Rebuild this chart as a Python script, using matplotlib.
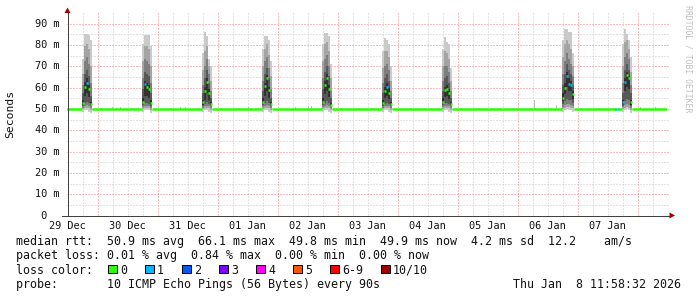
import numpy as np
import matplotlib
matplotlib.use("Agg")
import matplotlib.pyplot as plt
import matplotlib.transforms as mtransforms
from matplotlib.patches import Rectangle, Polygon
from matplotlib.lines import Line2D

# ---------------- data ----------------
day_labels = ["29 Dec", "30 Dec", "31 Dec", "01 Jan", "02 Jan", "03 Jan",
              "04 Jan", "05 Jan", "06 Jan", "07 Jan"]
ytick_values = [0, 10, 20, 30, 40, 50, 60, 70, 80, 90]   # milliseconds
baseline_rtt = 49.9           # ms, median outside the evening peaks
sample_step = 48 / 1440.0     # days per consolidated sample

# evening peaks: start time in days since 29 Dec 00:00
spike_start = [0.75, 1.75, 2.75, 3.75, 4.75, 5.75, 6.75, 8.75, 9.75]
spike_median = [
    [52.5, 60.0, 62.0, 59.0, 52.0],
    [53.0, 61.5, 60.0, 59.0, 52.5],
    [53.0, 58.0, 62.5, 57.0, 52.0],
    [53.0, 60.5, 64.0, 58.5, 52.0],
    [53.0, 61.0, 64.0, 59.0, 51.5],
    [52.5, 58.0, 60.0, 57.0, 52.0],
    [53.0, 58.5, 59.0, 57.0, 52.0],
    [55.0, 59.5, 65.0, 61.5, 61.0, 56.5],
    [52.8, 62.4, 65.5, 64.0, 53.0],
]
spike_loss = [
    [0, 0, 1, 0, 0],
    [0, 1, 0, 0, 0],
    [0, 0, 0, 0, 0],
    [0, 0, 0, 0, 0],
    [0, 0, 0, 0, 0],
    [0, 0, 1, 0, 0],
    [0, 0, 0, 0, 0],
    [0, 0, 1, 1, 1, 0],
    [1, 1, 0, 0, 0],
]
# 10 sorted ping times (ms) per sample
spike_pings = [
    [[48.5, 49.5, 50.0, 51.0, 51.5, 54.0, 57.0, 61.0, 66.0, 73.0],
     [49.0, 50.0, 51.0, 52.5, 56.0, 62.5, 66.0, 72.0, 79.0, 85.0],
     [49.0, 50.0, 51.5, 53.0, 57.0, 64.0, 68.0, 74.0, 80.0, 85.0],
     [48.5, 50.0, 51.0, 52.5, 55.5, 61.0, 65.0, 71.0, 78.0, 84.5],
     [48.0, 49.0, 50.0, 51.0, 51.5, 53.0, 56.0, 62.0, 70.0, 82.0]],
    [[48.5, 49.5, 50.5, 51.5, 52.5, 55.0, 59.0, 64.0, 72.0, 80.0],
     [49.0, 50.0, 51.0, 52.5, 56.0, 63.0, 67.0, 73.0, 79.0, 84.5],
     [49.0, 50.0, 51.0, 52.5, 56.0, 62.0, 66.0, 72.0, 79.0, 84.5],
     [49.0, 50.0, 51.0, 52.0, 55.0, 61.0, 65.0, 71.0, 78.0, 84.5],
     [48.0, 49.0, 50.0, 51.0, 51.5, 54.0, 57.0, 62.0, 70.0, 79.0]],
    [[48.5, 49.5, 50.0, 51.0, 51.5, 54.0, 57.0, 61.0, 68.0, 76.0],
     [49.0, 50.0, 51.0, 52.0, 54.0, 60.0, 64.0, 70.0, 77.0, 86.0],
     [49.0, 50.0, 51.0, 53.0, 57.0, 64.0, 68.0, 73.0, 79.0, 84.0],
     [48.5, 50.0, 51.0, 52.0, 54.0, 59.0, 62.0, 66.0, 70.0, 73.0],
     [48.0, 49.0, 50.0, 51.0, 51.5, 53.0, 55.0, 58.0, 63.0, 70.0]],
    [[48.5, 49.5, 50.5, 51.5, 52.5, 55.0, 58.0, 63.0, 70.0, 78.0],
     [49.0, 50.0, 51.0, 52.5, 56.0, 62.0, 66.0, 72.0, 78.0, 84.0],
     [49.0, 50.0, 51.5, 53.5, 58.0, 65.5, 69.0, 74.0, 80.0, 84.0],
     [48.5, 50.0, 51.0, 52.5, 55.0, 60.0, 64.0, 69.0, 75.0, 82.0],
     [48.0, 49.0, 50.0, 51.0, 51.5, 53.0, 55.0, 59.0, 65.0, 72.0]],
    [[48.5, 49.5, 50.5, 51.5, 52.5, 55.0, 59.0, 64.0, 72.0, 80.0],
     [49.0, 50.0, 51.0, 52.5, 56.5, 63.0, 67.0, 73.0, 80.0, 85.5],
     [49.0, 50.0, 51.5, 53.5, 58.0, 66.0, 70.0, 75.0, 81.0, 85.5],
     [48.5, 50.0, 51.0, 52.5, 55.5, 61.0, 65.0, 70.0, 77.0, 84.0],
     [48.0, 49.0, 50.0, 51.0, 51.5, 52.5, 55.0, 58.0, 64.0, 71.0]],
    [[48.5, 49.5, 50.0, 51.0, 51.5, 54.0, 57.0, 62.0, 69.0, 77.0],
     [49.0, 50.0, 51.0, 52.0, 55.0, 60.0, 64.0, 70.0, 77.0, 83.0],
     [49.0, 50.0, 51.0, 52.5, 56.0, 62.0, 66.0, 71.0, 77.0, 82.0],
     [48.5, 50.0, 51.0, 52.0, 54.5, 59.5, 63.0, 68.0, 74.0, 80.0],
     [48.0, 49.0, 50.0, 51.0, 51.5, 53.0, 55.0, 58.0, 63.0, 70.0]],
    [[48.5, 49.5, 50.5, 51.5, 52.5, 55.0, 58.0, 63.0, 70.0, 78.0],
     [49.0, 50.0, 51.0, 52.5, 55.5, 60.0, 64.0, 70.0, 77.0, 83.5],
     [49.0, 50.0, 51.0, 52.5, 56.0, 61.0, 65.0, 70.0, 76.0, 81.0],
     [48.5, 50.0, 51.0, 52.0, 54.5, 59.0, 62.0, 67.0, 73.0, 80.0],
     [48.0, 49.0, 50.0, 51.0, 51.5, 53.0, 55.0, 58.0, 63.0, 69.0]],
    [[48.5, 49.5, 50.5, 52.0, 53.5, 57.0, 61.0, 66.0, 74.0, 82.0],
     [49.0, 50.0, 51.5, 53.5, 56.5, 62.0, 66.0, 72.0, 80.0, 87.0],
     [49.5, 50.5, 52.0, 54.5, 60.0, 67.0, 71.0, 76.0, 82.0, 87.0],
     [49.5, 50.5, 52.0, 54.0, 58.0, 64.0, 68.0, 73.0, 80.0, 86.0],
     [49.0, 50.0, 51.5, 54.0, 58.0, 63.0, 66.0, 71.0, 78.0, 86.0],
     [48.5, 50.0, 51.0, 52.5, 54.5, 58.0, 61.0, 65.0, 70.0, 76.0]],
    [[48.5, 49.5, 50.5, 51.0, 52.0, 54.0, 57.0, 62.0, 70.0, 80.0],
     [49.0, 50.0, 51.5, 53.5, 58.0, 64.0, 68.0, 74.0, 81.0, 87.0],
     [49.5, 50.5, 52.0, 54.5, 60.0, 67.0, 71.0, 76.0, 82.0, 85.0],
     [49.0, 50.0, 51.5, 54.0, 59.0, 65.0, 68.0, 73.0, 78.0, 82.0],
     [48.0, 49.0, 50.0, 51.0, 51.5, 54.0, 57.0, 61.0, 67.0, 74.0]],
]
# small isolated smoke bits on the baseline (time in days, top ms)
blip_time = [1.25, 1.38, 2.38, 2.47, 3.52, 4.30, 4.52, 4.57, 8.28, 8.65, 10.05, 10.30]
blip_top = [50.8, 50.8, 50.6, 50.6, 50.8, 50.6, 50.9, 50.9, 53.8, 51.4, 50.8, 50.8]
# single lost pings on the baseline
loss_blip_time = [9.63, 9.68]
loss_blip_count = [1, 1]

loss_labels = ["0", "1", "2", "3", "4", "5", "6-9", "10/10"]
loss_colors = ["#26ff00", "#00b8ff", "#0059ff", "#7e00ff", "#ff00ff",
               "#ff5500", "#ff0000", "#a10000"]

stats_line = "median rtt:  50.9 ms avg  66.1 ms max  49.8 ms min  49.9 ms now  4.2 ms sd  12.2    am/s"
loss_line = "packet loss: 0.01 % avg  0.84 % max  0.00 % min  0.00 % now"
probe_line = "probe:       10 ICMP Echo Pings (56 Bytes) every 90s"
date_text = "Thu Jan  8 11:58:32 2026"


def loss_index(n):
    if n <= 5:
        return n
    if n < 10:
        return 6
    return 7


# ---------------- figure ----------------
W, H = 697, 297
fig = plt.figure(figsize=(W / 100, H / 100), dpi=100)
fig.patch.set_facecolor("white")
pix = mtransforms.Affine2D().scale(1, -1).translate(0, H)   # pixel coords, y down
ident = mtransforms.IdentityTransform()

ax = fig.add_axes([67 / W, (H - 215) / H, 600 / W, (215 - 13) / H])
ax.set_xlim(0.5, 10.5)
ax.set_ylim(0, 94.7)
ax.set_facecolor("white")
for s in ax.spines.values():
    s.set_visible(False)
ax.set_xticks([])
ax.set_yticks([])

# grid (pixel aligned dotted lines)
minor_col = "#c8c8c8"
major_col = "#f08080"
dash = (0, (1, 2))
x_left, y_bot = ax.transData.transform((0.5, 0))
x_right, y_top = ax.transData.transform((10.5, 94.7))


def vgrid(t, col):
    xd = np.floor(ax.transData.transform((t, 0))[0]) + 0.5
    fig.add_artist(Line2D([xd, xd], [y_bot, y_top], transform=ident, color=col,
                          lw=0.72, ls=dash, zorder=1))


def hgrid(v, col):
    yd = np.floor(ax.transData.transform((0.5, v))[1]) + 0.5
    fig.add_artist(Line2D([x_left, x_right + 1], [yd, yd], transform=ident, color=col,
                          lw=0.72, ls=dash, zorder=1))


for k in range(1, 41):
    t = 0.5 + k * 0.25
    if t >= 10.5:
        break
    if abs(t - round(t)) < 1e-9:
        continue
    vgrid(t, minor_col)
for v in range(5, 95, 10):
    hgrid(v, minor_col)
for d in range(1, 11):
    vgrid(d, major_col)
for v in ytick_values[1:]:
    hgrid(v, major_col)
ax.set_zorder(2)
ax.patch.set_alpha(0)

# smoke
shades = ["#cacaca", "#a4a4a4", "#7e7e7e", "#585858", "#323232"]
for t0, pings in zip(spike_start, spike_pings):
    P = np.array(pings)
    n = len(P)
    t = t0 + np.arange(n + 1) * sample_step
    P = np.vstack([P, P[-1]])
    for k in range(5):
        ax.fill_between(t, P[:, k], P[:, 9 - k], step="post", color=shades[k],
                        lw=0, antialiased=False, zorder=2)
for tb, top in zip(blip_time, blip_top):
    ax.fill_between([tb, tb + sample_step / 2], baseline_rtt - 0.4, top,
                    color="#c0c0c0", lw=0, antialiased=False, zorder=2)

# median: baseline segments between peaks, then per-sample segments coloured by loss
mlw = 1.8
prev = 0.5
for t0, med, los in zip(spike_start, spike_median, spike_loss):
    ax.hlines(baseline_rtt, prev, t0, color=loss_colors[0], lw=mlw, zorder=3)
    t = t0 + np.arange(len(med)) * sample_step
    cols = [loss_colors[loss_index(l)] for l in los]
    ax.hlines(med, t, t + sample_step, colors=cols, lw=mlw, zorder=3)
    prev = t0 + len(med) * sample_step
ax.hlines(baseline_rtt, prev, 10.5, color=loss_colors[0], lw=mlw, zorder=3)
for tb, nl in zip(loss_blip_time, loss_blip_count):
    ax.hlines(baseline_rtt, tb, tb + sample_step / 2,
              color=loss_colors[loss_index(nl)], lw=mlw, zorder=3.5)

# axes lines and arrows
axis_col = "#404040"
arrow_col = "#a00000"
fig.add_artist(Line2D([67.5, 67.5], [215.5, 12], transform=pix, color=axis_col,
                      lw=0.72, antialiased=False, zorder=4))
fig.add_artist(Line2D([62, 670], [215.5, 215.5], transform=pix, color=axis_col,
                      lw=0.72, antialiased=False, zorder=4))
fig.add_artist(Polygon([(64.5, 13), (70.5, 13), (67.5, 7.5)], closed=True,
                       transform=pix, color=arrow_col, lw=0, zorder=4))
fig.add_artist(Polygon([(669.5, 212.5), (669.5, 218.5), (675, 215.5)], closed=True,
                       transform=pix, color=arrow_col, lw=0, zorder=4))

mono = "DejaVu Sans Mono"
tick_fs = 7.4
tick_cw = 0.602 * tick_fs * 100 / 72

# y tick labels
ylab_trans = mtransforms.offset_copy(
    mtransforms.blended_transform_factory(pix, ax.transData),
    fig=fig, x=0, y=-3.7, units="dots")
for v in ytick_values:
    s = f"{v:2d} m" if v else " 0  "
    fig.text(60 - 4 * tick_cw, v, s, transform=ylab_trans, family=mono,
             fontsize=tick_fs, ha="left", va="baseline", color="#111111")

# x tick labels
xlab_trans = mtransforms.blended_transform_factory(ax.transData, pix)
for i, lbl in enumerate(day_labels):
    fig.text(0.5 + i, 229, lbl, transform=xlab_trans, family=mono,
             fontsize=tick_fs, ha="center", va="baseline", color="#111111")

# axis title
fig.text(10.5, 114, "Seconds", transform=pix, family=mono, fontsize=8.2,
         rotation=90, ha="center", va="center", color="#111111")
# watermark
fig.text(688, 5, "RRDTOOL / TOBI OETIKER", transform=pix, family=mono,
         fontsize=5.9, rotation=270, ha="center", va="top", color="#c0c0c0")

# legend
leg_fs = 8.37
cw = 7.0
fig.text(16, 245, stats_line, transform=pix, family=mono, fontsize=leg_fs,
         va="baseline", color="#111111")
fig.text(16, 259.5, loss_line, transform=pix, family=mono, fontsize=leg_fs,
         va="baseline", color="#111111")
fig.text(16, 273.5, "loss color:", transform=pix, family=mono, fontsize=leg_fs,
         va="baseline", color="#111111")
x = 108.0
for lbl, col in zip(loss_labels, loss_colors):
    fig.add_artist(Rectangle((x, 264.5), 8.5, 8.5, transform=pix, facecolor=col,
                             edgecolor="black", lw=0.72))
    fig.text(x + 12, 273.5, lbl, transform=pix, family=mono, fontsize=leg_fs,
             va="baseline", color="#111111")
    x = x + 12 + len(lbl) * cw + 18
fig.text(16, 288, probe_line, transform=pix, family=mono, fontsize=leg_fs,
         va="baseline", color="#111111")
fig.text(513, 288, date_text, transform=pix, family=mono, fontsize=leg_fs,
         va="baseline", color="#111111")

fig.savefig("out.png", dpi=100, facecolor="white")
